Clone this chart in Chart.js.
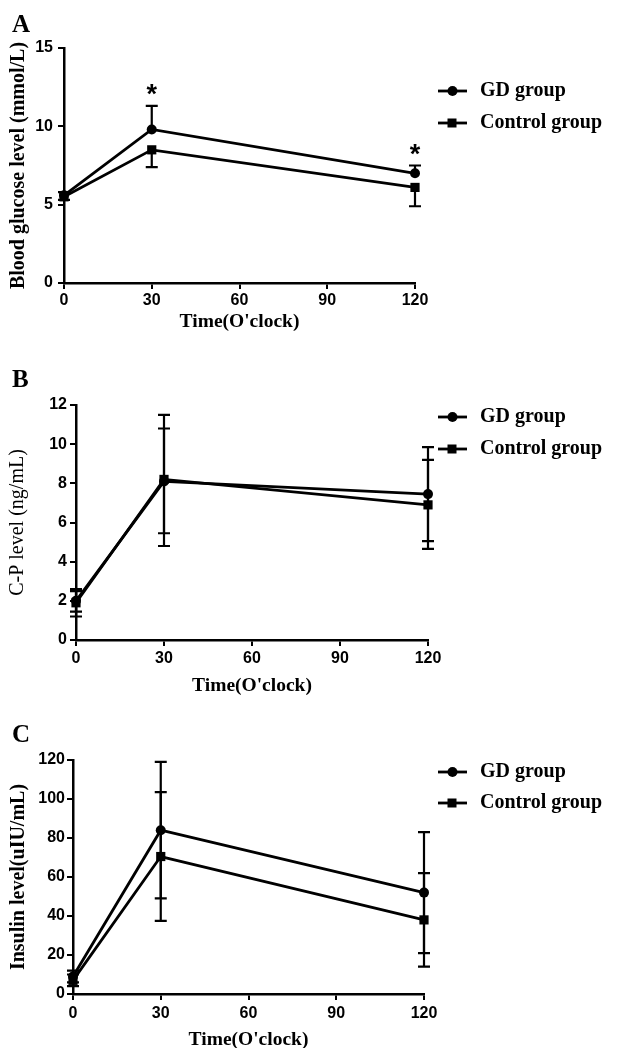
<!DOCTYPE html>
<html>
<head>
<meta charset="utf-8">
<script src="https://cdn.jsdelivr.net/npm/chart.js@4"></script>
<style>
  html, body { margin:0; padding:0; background:#fff; overflow:hidden; width:617px; height:1048px; }
  canvas { position:absolute; left:0; }
</style>
</head>
<body>
<canvas id="cA" width="617" height="345" style="top:0px"></canvas>
<canvas id="cB" width="617" height="355" style="top:345px"></canvas>
<canvas id="cC" width="617" height="356" style="top:700px"></canvas>
<script>
// ---- shared ----
const times = [0, 30, 120];
const xTicks = [0, 30, 60, 90, 120];
const xTitle = "Time(O'clock)";
const seriesNames = ["GD group", "Control group"];

// ---- Panel A: blood glucose ----
const glucoseTicks = [0, 5, 10, 15];
const glucoseGD = [5.6, 9.8, 7.0];
const glucoseGDHi = [5.8, 11.3, 7.5];
const glucoseGDLo = [null, null, null];
const glucoseCtrl = [5.5, 8.5, 6.1];
const glucoseCtrlHi = [null, null, null];
const glucoseCtrlLo = [5.3, 7.4, 4.9];
const glucoseSigTimes = [30, 120];

// ---- Panel B: C-peptide ----
const cpTicks = [0, 2, 4, 6, 8, 10, 12];
const cpGD = [2.0, 8.1, 7.45];
const cpGDHi = [2.6, 11.5, 9.85];
const cpGDLo = [1.45, 4.8, 5.05];
const cpCtrl = [1.9, 8.2, 6.9];
const cpCtrlHi = [2.5, 10.8, 9.2];
const cpCtrlLo = [1.2, 5.45, 4.65];

// ---- Panel C: insulin ----
const insTicks = [0, 20, 40, 60, 80, 100, 120];
const insGD = [9, 84, 52];
const insGDHi = [12, 119, 83];
const insGDLo = [6, 49, 21];
const insCtrl = [7, 70.5, 38];
const insCtrlHi = [10, 103.5, 62];
const insCtrlLo = [4, 37.5, 14];

const SERIF = "'Liberation Serif', 'Times New Roman', serif";
const SANS = "'Liberation Sans', Arial, sans-serif";

function pts(arr) { return times.map((t, i) => ({ x: t, y: arr[i] })); }

function decor(o) {
  return {
    id: 'decor' + o.letter,
    afterDatasetsDraw(chart) {
      const ctx = chart.ctx, xs = chart.scales.x, ys = chart.scales.y;
      ctx.save();
      ctx.strokeStyle = '#000';
      ctx.fillStyle = '#000';
      ctx.lineWidth = 2.2;
      // error bars
      o.errors.forEach(e => {
        times.forEach((t, j) => {
          const px = xs.getPixelForValue(t);
          const pm = ys.getPixelForValue(e.mean[j]);
          [e.hi[j], e.lo[j]].forEach(v => {
            if (v === null || v === undefined) return;
            const pv = ys.getPixelForValue(v);
            ctx.beginPath();
            ctx.moveTo(px, pm); ctx.lineTo(px, pv);
            ctx.moveTo(px - 6, pv); ctx.lineTo(px + 6, pv);
            ctx.stroke();
          });
        });
      });
      // significance asterisks
      if (o.sig) {
        ctx.font = 'bold 27px ' + SANS;
        ctx.textAlign = 'center';
        ctx.textBaseline = 'alphabetic';
        o.sig.times.forEach(t => {
          const j = times.indexOf(t);
          const px = xs.getPixelForValue(t);
          const py = ys.getPixelForValue(o.sig.top[j]) - 19;
          ctx.fillText('*', px, py + 16);
        });
      }
      // panel letter
      ctx.font = 'bold 25px ' + SERIF;
      ctx.textAlign = 'left';
      ctx.textBaseline = 'alphabetic';
      ctx.fillText(o.letter, 12, o.letterY);
      // legend
      chart.data.datasets.forEach((ds, i) => {
        const y = o.legendY[i];
        ctx.lineWidth = 2.8;
        ctx.beginPath(); ctx.moveTo(438, y); ctx.lineTo(467, y); ctx.stroke();
        if (ds.pointStyle === 'rect') {
          ctx.fillRect(452 - 4.5, y - 4.5, 9, 9);
        } else {
          ctx.beginPath(); ctx.arc(452.5, y, 5, 0, Math.PI * 2); ctx.fill();
        }
        ctx.font = 'bold 20px ' + SERIF;
        ctx.textAlign = 'left';
        ctx.textBaseline = 'middle';
        ctx.fillText(ds.label, 480, y);
      });
      ctx.restore();
    }
  };
}

function makeChart(id, cfg) {
  const datasets = [
    { label: seriesNames[0], data: pts(cfg.gd), pointStyle: 'circle', pointRadius: 5 },
    { label: seriesNames[1], data: pts(cfg.ctrl), pointStyle: 'rect', pointRadius: 6.5 }
  ].map(d => Object.assign(d, {
    borderColor: '#000', backgroundColor: '#000', pointBackgroundColor: '#000',
    pointBorderColor: '#000', borderWidth: 2.8, pointBorderWidth: 0, tension: 0, clip: false
  }));
  return new Chart(document.getElementById(id), {
    type: 'line',
    data: { datasets },
    options: {
      responsive: false, animation: false, devicePixelRatio: 1,
      layout: { padding: cfg.pad },
      plugins: { legend: { display: false }, tooltip: { enabled: false } },
      scales: {
        x: {
          type: 'linear', min: 0, max: 120,
          afterBuildTicks: s => { s.ticks = xTicks.map(v => ({ value: v })); },
          afterFit: s => { s.height = cfg.xH; },
          ticks: { color: '#000', font: { family: SANS, size: 16, weight: 'bold' }, padding: cfg.xTickPad, maxRotation: 0 },
          grid: { drawOnChartArea: false, drawTicks: true, tickLength: 6, color: '#000', lineWidth: 2 },
          border: { color: '#000', width: 2.5 },
          title: { display: true, text: xTitle, color: '#000',
                   font: { family: SERIF, size: 19.5, weight: 'bold' }, padding: { top: 0, bottom: cfg.xTitlePad } }
        },
        y: {
          min: cfg.yTicks[0], max: cfg.yTicks[cfg.yTicks.length - 1],
          afterBuildTicks: s => { s.ticks = cfg.yTicks.map(v => ({ value: v })); },
          afterFit: s => { s.width = cfg.yW; },
          ticks: { color: '#000', font: { family: SANS, size: 16, weight: 'bold' }, padding: cfg.yTickPad },
          grid: { drawOnChartArea: false, drawTicks: true, tickLength: 6, color: '#000', lineWidth: 2 },
          border: { color: '#000', width: 2.5 },
          title: { display: true, text: cfg.yTitle, color: '#000',
                   font: { family: SERIF, size: 20, weight: cfg.yTitleWeight }, padding: { top: cfg.yTitlePad, bottom: 0 } }
        }
      }
    },
    plugins: [decor(cfg.decor)]
  });
}

makeChart('cA', {
  gd: glucoseGD, ctrl: glucoseCtrl, yTicks: glucoseTicks,
  yTitle: 'Blood glucose level (mmol/L)', yTitleWeight: 'bold', yTitlePad: 7,
  pad: { top: 48, right: 202, left: 0, bottom: 0 }, yW: 64, xH: 62,
  xTickPad: 2, yTickPad: 5, xTitlePad: 11.6,
  decor: {
    letter: 'A', letterY: 32, legendY: [91, 123],
    errors: [
      { mean: glucoseGD, hi: glucoseGDHi, lo: glucoseGDLo },
      { mean: glucoseCtrl, hi: glucoseCtrlHi, lo: glucoseCtrlLo }
    ],
    sig: { times: glucoseSigTimes, top: glucoseGDHi }
  }
});

makeChart('cB', {
  gd: cpGD, ctrl: cpCtrl, yTicks: cpTicks,
  yTitle: 'C-P level (ng/mL)', yTitleWeight: 'normal', yTitlePad: 6,
  pad: { top: 60, right: 189, left: 0, bottom: 0 }, yW: 76, xH: 60,
  xTickPad: 3, yTickPad: 3, xTitlePad: 2,
  decor: {
    letter: 'B', letterY: 42, legendY: [72, 104],
    errors: [
      { mean: cpGD, hi: cpGDHi, lo: cpGDLo },
      { mean: cpCtrl, hi: cpCtrlHi, lo: cpCtrlLo }
    ]
  }
});

makeChart('cC', {
  gd: insGD, ctrl: insCtrl, yTicks: insTicks,
  yTitle: 'Insulin level(uIU/mL)', yTitleWeight: 'bold', yTitlePad: 7,
  pad: { top: 60, right: 193, left: 0, bottom: 0 }, yW: 73, xH: 62,
  xTickPad: 4, yTickPad: 2, xTitlePad: 4.6,
  decor: {
    letter: 'C', letterY: 42, legendY: [72, 103],
    errors: [
      { mean: insGD, hi: insGDHi, lo: insGDLo },
      { mean: insCtrl, hi: insCtrlHi, lo: insCtrlLo }
    ]
  }
});
</script>
</body>
</html>
